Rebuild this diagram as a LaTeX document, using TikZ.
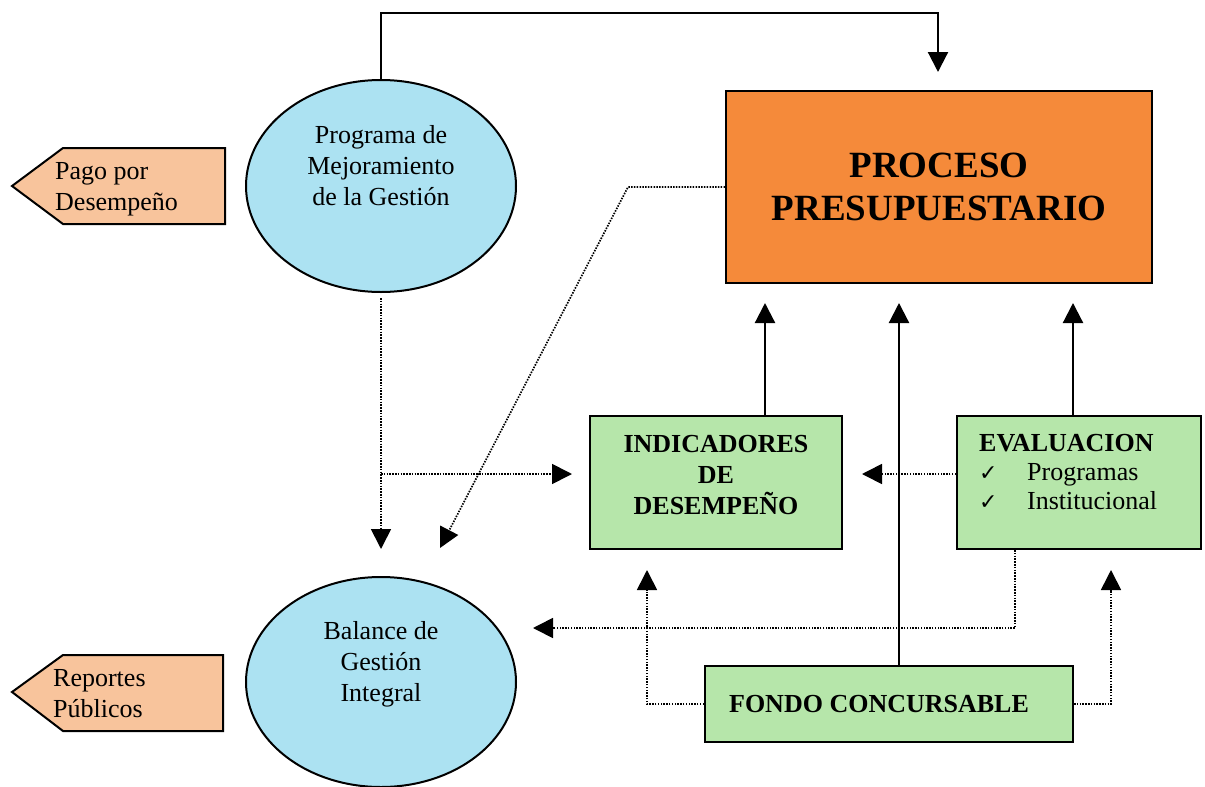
\documentclass[tikz,border=0pt]{standalone}
\usepackage{fontspec}
\setmainfont{Liberation Serif}
\newfontfamily\symfont{DejaVu Sans}
\usetikzlibrary{arrows.meta,shapes.geometric}
\definecolor{ellblue}{RGB}{172,226,242}
\definecolor{peach}{RGB}{248,196,156}
\definecolor{procorange}{RGB}{245,138,58}
\definecolor{boxgreen}{RGB}{182,230,170}
\tikzset{
  txt/.style={font=\fontsize{26}{31}\selectfont, align=center, inner sep=0pt},
  bld/.style={font=\fontsize{26}{31}\selectfont\bfseries, align=center, inner sep=0pt},
  oval/.style={ellipse, draw=black, line width=2pt, fill=ellblue, minimum width=270pt, minimum height=212pt, inner sep=0pt},
  greenbox/.style={draw=black, line width=2pt, fill=boxgreen, inner sep=0pt},
  pent/.style={draw=black, line width=2pt, fill=peach},
  sarrow/.style={draw=black, line width=2.2pt, -{Triangle[length=20pt,width=20pt]}},
  darrow/.style={draw=black, line width=1.7pt, dash pattern=on 1.5pt off 1.3pt, -{Triangle[length=20pt,width=20pt]}},
}
\begin{document}
\begin{tikzpicture}[x=1pt,y=-1pt]
\useasboundingbox (0,0) rectangle (1205,787);
\fill[white] (0,0) rectangle (1205,787);

% pentagons
\draw[pent] (12,186) -- (63,148) -- (225,148) -- (225,224) -- (63,224) -- cycle;
\node[txt, align=left, anchor=west] (pago) at (55,189) {Pago por\\Desempeño};
\draw[pent] (12,692) -- (63,655) -- (223,655) -- (223,731) -- (63,731) -- cycle;
\node[txt, align=left, anchor=west] (rep) at (53,694) {Reportes\\Públicos};

% ellipses
\node[oval] (pmg) at (381,186) {};
\node[txt] (pmgt) at (381,166) {Programa de\\Mejoramiento\\de la Gestión};
\node[oval, minimum height=210pt] (bgi) at (381,682) {};
\node[txt] (bgit) at (381,664) {Balance de\\Gestión\\Integral};

% process box
\node[draw=black, line width=2pt, fill=procorange, minimum width=426pt, minimum height=192pt,
      font=\fontsize{37}{43}\selectfont\bfseries, align=center] (proc) at (939,187) {PROCESO\\PRESUPUESTARIO};

% green boxes
\node[greenbox, minimum width=252pt, minimum height=133pt] (ind) at (716,482.5) {};
\node[bld] (indt) at (716,475) {INDICADORES\\DE\\DESEMPEÑO};
\node[greenbox, minimum width=244pt, minimum height=133pt] (eval) at (1079,482.5) {};
\node[font=\fontsize{26}{29}\selectfont, align=left, anchor=north west, inner sep=0pt] (evalt) at (979,434)
  {\textbf{EVALUACION}\\{\symfont\fontsize{22}{29}\selectfont\makebox[48pt][l]{✓}}Programas\\{\symfont\fontsize{22}{29}\selectfont\makebox[48pt][l]{✓}}Institucional};
\node[greenbox, minimum width=368pt, minimum height=76pt, bld] (fondo) at (889,704) {FONDO CONCURSABLE\hspace{20pt}};

% coordinates
\coordinate (tipTop) at (938,72);
\coordinate (t1) at (765,303);
\coordinate (t2) at (899,303);
\coordinate (t3) at (1073,303);
\coordinate (bend1) at (628,187);
\coordinate (tipDiag) at (440,548);
\coordinate (tipV) at (381,549);
\coordinate (branch) at (381,474);
\coordinate (tipH) at (572,474);
\coordinate (tipE) at (862,474);
\coordinate (ev1) at (1015,628);
\coordinate (tipB) at (533,628);
\coordinate (tipFL) at (647,570);
\coordinate (tipFR) at (1111,570);

% solid connectors
\draw[sarrow] (pmg.north) -- ++(0,-66) -| (tipTop);
\draw[sarrow] (t1 |- ind.north) -- (t1);
\draw[sarrow] (t2 |- fondo.north) -- (t2);
\draw[sarrow] (t3 |- eval.north) -- (t3);

% dotted connectors
\draw[darrow] (proc.west) -- (bend1) -- (tipDiag);
\draw[darrow, shorten <=5pt] (pmg.south) -- (tipV);
\draw[darrow] (branch) -- (tipH);
\draw[darrow] (eval.west |- tipE) -- (tipE);
\draw[darrow] (ev1 |- eval.south) -- (ev1) -- (tipB);
\draw[darrow] (fondo.west) -| (tipFL);
\draw[darrow] (fondo.east) -| (tipFR);
\end{tikzpicture}
\end{document}
